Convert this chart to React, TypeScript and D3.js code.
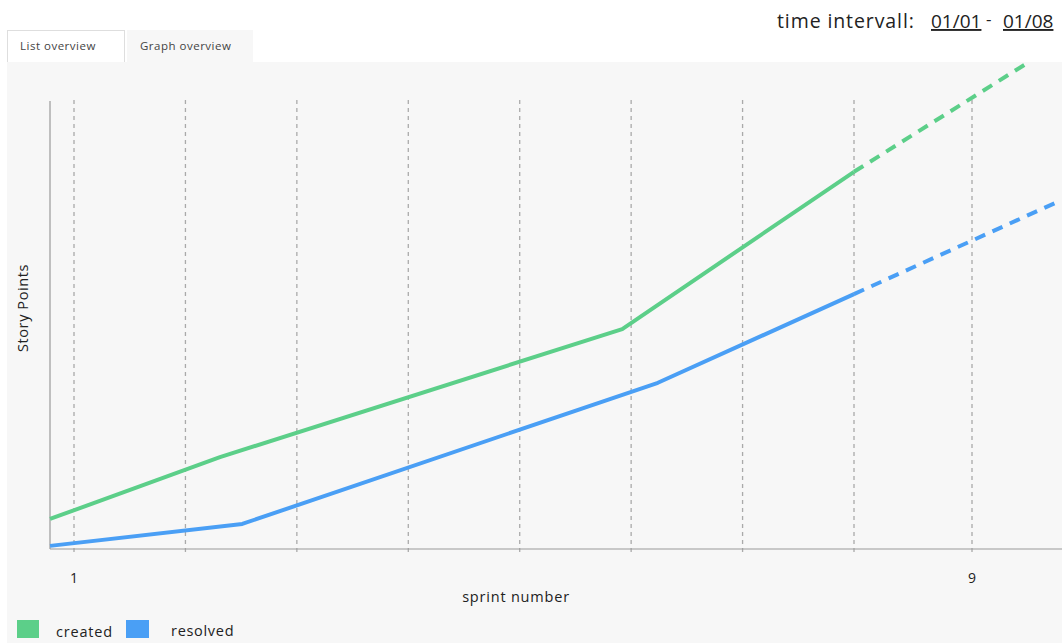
import React from "react";
import * as d3 from "d3";

// Sprint positions and story point values
const createdSprints = [0.785, 2.31, 5.92, 8];
const createdPoints = [6.7, 20.5, 49.1, 84.2];
const createdForecastSprints = [8, 9.47];
const createdForecastPoints = [84.2, 108.5];

const resolvedSprints = [0.785, 2.51, 6.24, 8];
const resolvedPoints = [0.7, 5.6, 37.1, 56.9];
const resolvedForecastSprints = [8, 9.76];
const resolvedForecastPoints = [56.9, 77.9];

const gridSprints = [1, 2, 3, 4, 5, 6, 7, 8, 9];
const tickLabels = ["1", "9"];
const tickSprints = [1, 9];

const seriesNames = ["created", "resolved"];
const seriesColors = ["#5ccf89", "#4a9ff5"];

const W = 1062;
const H = 643;
const FONT = "'Open Sans', 'Noto Sans', sans-serif";

export default function App() {
  const x = d3.scaleLinear().domain([1, 8, 9]).range([74, 854, 972]);
  const y = d3.scaleLinear().domain([0, 100]).range([549, 101]);

  const line = d3
    .line<[number, number]>()
    .x((d) => x(d[0]))
    .y((d) => y(d[1]));

  const zip = (a: number[], b: number[]) => a.map((v, i) => [v, b[i]] as [number, number]);

  const axisLeft = 50;
  const axisBottom = y(0);
  const axisTop = y(100);

  return (
    <svg
      width={W}
      height={H}
      style={{ position: "absolute", left: 0, top: 0, background: "#fff" }}
      fontFamily={FONT}
    >
      {/* header */}
      <text x={777} y={28} fontSize={19.5} fill="#222" letterSpacing={0.9}>time intervall:</text>
      <text x={931} y={28} fontSize={19} fill="#222" textDecoration="underline">01/01</text>
      <text x={986} y={25} fontSize={17} fill="#222">-</text>
      <text x={1003} y={28} fontSize={19} fill="#222" textDecoration="underline">01/08</text>

      {/* tabs */}
      <rect x={7.5} y={30.5} width={117} height={33} fill="#fff" stroke="#dedede" />
      <text x={20} y={50} fontSize={11.5} fill="#444" letterSpacing={0.5}>List overview</text>
      <rect x={127} y={30} width={126} height={33} fill="#f7f7f7" />
      <text x={140} y={50} fontSize={11.5} fill="#444" letterSpacing={0.5}>Graph overview</text>

      {/* panel */}
      <rect x={7} y={62} width={W - 7} height={H - 62} fill="#f7f7f7" />

      {/* vertical dashed grid */}
      {gridSprints.map((s) => (
        <line
          key={s}
          x1={x(s)}
          x2={x(s)}
          y1={axisTop - 1}
          y2={axisBottom + 3}
          stroke="#aaa"
          strokeWidth={1.3}
          strokeDasharray="4 4"
        />
      ))}

      {/* axes */}
      <line x1={axisLeft} x2={axisLeft} y1={axisTop} y2={axisBottom} stroke="#999" strokeWidth={1.2} />
      <line x1={axisLeft} x2={W} y1={axisBottom} y2={axisBottom} stroke="#999" strokeWidth={1.2} />

      {/* tick labels */}
      {tickSprints.map((s, i) => (
        <text key={s} x={x(s)} y={583} fontSize={14} fill="#222" textAnchor="middle">
          {tickLabels[i]}
        </text>
      ))}
      <text x={516} y={602} fontSize={14.5} fill="#222" textAnchor="middle" letterSpacing={0.8}>sprint number</text>
      <text
        transform={`translate(28,308) rotate(-90)`}
        fontSize={14.5}
        fill="#222"
        textAnchor="middle"
        letterSpacing={0.6}
      >
        Story Points
      </text>

      {/* series */}
      <path d={line(zip(createdSprints, createdPoints)) || ""} fill="none" stroke={seriesColors[0]} strokeWidth={4} strokeLinejoin="round" />
      <path d={line(zip(createdForecastSprints, createdForecastPoints)) || ""} fill="none" stroke={seriesColors[0]} strokeWidth={4} strokeDasharray="11 8" />
      <path d={line(zip(resolvedSprints, resolvedPoints)) || ""} fill="none" stroke={seriesColors[1]} strokeWidth={4} strokeLinejoin="round" />
      <path d={line(zip(resolvedForecastSprints, resolvedForecastPoints)) || ""} fill="none" stroke={seriesColors[1]} strokeWidth={4} strokeDasharray="11 8" />

      {/* legend */}
      <rect x={17} y={620} width={22} height={18} fill={seriesColors[0]} />
      <text x={56} y={637} fontSize={14.5} fill="#222" letterSpacing={0.8}>{seriesNames[0]}</text>
      <rect x={126} y={620} width={23} height={18} fill={seriesColors[1]} />
      <text x={171} y={636} fontSize={14.5} fill="#222" letterSpacing={0.7}>{seriesNames[1]}</text>
    </svg>
  );
}
